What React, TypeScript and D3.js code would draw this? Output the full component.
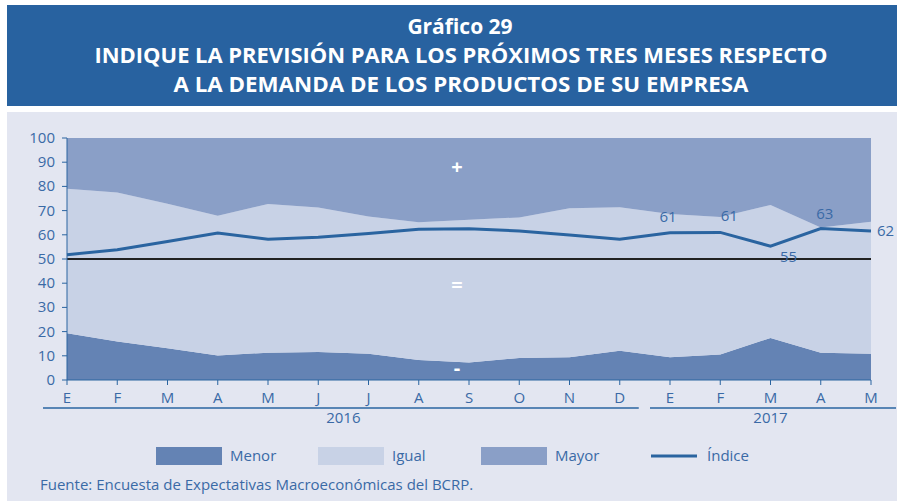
import * as d3 from 'd3';

const months = ['E', 'F', 'M', 'A', 'M', 'J', 'J', 'A', 'S', 'O', 'N', 'D', 'E', 'F', 'M', 'A', 'M'];
const years = [
  { label: '2016', from: 0, to: 11 },
  { label: '2017', from: 12, to: 16 },
];
const menor = [19.3, 15.9, 13.1, 10.1, 11.3, 11.6, 10.8, 8.3, 7.2, 9.1, 9.4, 12.1, 9.4, 10.5, 17.4, 11.3, 10.8];
const igual = [59.7, 61.6, 59.7, 57.8, 61.4, 59.7, 56.8, 56.9, 59.0, 58.1, 61.6, 59.3, 59.2, 56.9, 54.9, 51.7, 54.6];
const mayor = [21.0, 22.5, 27.2, 32.1, 27.3, 28.7, 32.4, 34.8, 33.8, 32.8, 29.0, 28.6, 31.4, 32.6, 27.7, 37.0, 34.6];
const indice = [51.8, 53.8, 57.2, 60.7, 58.2, 59.0, 60.5, 62.3, 62.5, 61.6, 59.9, 58.2, 60.8, 61.0, 55.3, 62.6, 61.6];
const labelled = [
  { i: 12, text: '61', dx: -2, dy: -11, anchor: 'middle' },
  { i: 13, text: '61', dx: 9, dy: -11, anchor: 'middle' },
  { i: 14, text: '55', dx: 18, dy: 16, anchor: 'middle' },
  { i: 15, text: '63', dx: 4, dy: -10, anchor: 'middle' },
  { i: 16, text: '62', dx: 6, dy: 5, anchor: 'start' },
];
const yTicks = [0, 10, 20, 30, 40, 50, 60, 70, 80, 90, 100];

const C = {
  title: '#2862a0',
  panel: '#e3e6f1',
  menor: '#6483b4',
  igual: '#c8d2e6',
  mayor: '#8a9fc7',
  line: '#2a64a0',
  text: '#3a6aa6',
};
const FONT = "'Open Sans', sans-serif";

export default function App() {
  const W = 904;
  const H = 501;
  const x = d3.scaleLinear().domain([0, months.length - 1]).range([67, 871]);
  const y = d3.scaleLinear().domain([0, 100]).range([380, 138]);

  const rows = months.map((_, i) => ({ i, menor: menor[i], igual: igual[i], mayor: mayor[i] }));
  const stack = d3.stack<any>().keys(['menor', 'igual', 'mayor'])(rows);
  const area = d3.area<any>()
    .x((d) => x(d.data.i))
    .y0((d) => y(d[0]))
    .y1((d) => y(d[1]));
  const line = d3.line<number>()
    .x((_, i) => x(i))
    .y((d) => y(d));

  const fills: Record<string, string> = { menor: C.menor, igual: C.igual, mayor: C.mayor };
  const legend = [
    { key: 'Menor', color: C.menor, x: 156 },
    { key: 'Igual', color: C.igual, x: 318 },
    { key: 'Mayor', color: C.mayor, x: 481 },
  ];

  return (
    <svg width={W} height={H} style={{ position: 'absolute', left: 0, top: 0 }} fontFamily={FONT}>
      <rect x={7} y={5} width={890} height={101} fill={C.title} />
      <text x={460} y={34} textAnchor="middle" fill="#fff" fontWeight={700} fontSize={21}>Gráfico 29</text>
      <text x={461} y={63} textAnchor="middle" fill="#fff" fontWeight={700} fontSize={21} textLength={733} lengthAdjust="spacingAndGlyphs">
        INDIQUE LA PREVISIÓN PARA LOS PRÓXIMOS TRES MESES RESPECTO
      </text>
      <text x={461} y={92} textAnchor="middle" fill="#fff" fontWeight={700} fontSize={21} textLength={575} lengthAdjust="spacingAndGlyphs">
        A LA DEMANDA DE LOS PRODUCTOS DE SU EMPRESA
      </text>

      <rect x={7} y={112} width={890} height={389} fill={C.panel} />

      {stack.map((s) => (
        <path key={s.key} d={area(s) || ''} fill={fills[s.key]} />
      ))}

      <line x1={x(0)} x2={x(months.length - 1)} y1={y(50)} y2={y(50)} stroke="#222" strokeWidth={2} />
      <path d={line(indice) || ''} fill="none" stroke={C.line} strokeWidth={3} />

      {labelled.map((l) => (
        <text key={l.i} x={x(l.i) + l.dx} y={y(indice[l.i]) + l.dy} textAnchor={l.anchor} fill={C.text} fontSize={15}>
          {l.text}
        </text>
      ))}

      <text x={457} y={174} textAnchor="middle" fill="#fff" fontWeight={700} fontSize={20}>+</text>
      <text x={457} y={292} textAnchor="middle" fill="#fff" fontWeight={700} fontSize={20}>=</text>
      <text x={457} y={375} textAnchor="middle" fill="#fff" fontWeight={700} fontSize={20}>-</text>

      {/* y axis */}
      <line x1={67} x2={67} y1={y(100)} y2={y(0)} stroke={C.line} strokeWidth={1} />
      {yTicks.map((t) => (
        <g key={t}>
          <line x1={62} x2={67} y1={y(t)} y2={y(t)} stroke={C.line} />
          <text x={55} y={y(t) + 5} textAnchor="end" fill={C.text} fontSize={15}>{t}</text>
        </g>
      ))}

      {/* x axis */}
      <line x1={x(0)} x2={x(months.length - 1)} y1={380} y2={380} stroke={C.line} />
      {months.map((m, i) => (
        <g key={i}>
          <line x1={x(i)} x2={x(i)} y1={380} y2={385} stroke={C.line} />
          <text x={x(i)} y={403} textAnchor="middle" fill={C.text} fontSize={15}>{m}</text>
        </g>
      ))}
      {years.map((yr) => {
        const x0 = yr.from === 0 ? 43 : x(yr.from) - 20;
        const x1 = yr.to === months.length - 1 ? 896 : x(yr.to) + 19;
        return (
          <g key={yr.label}>
            <line x1={x0} x2={x1} y1={408} y2={408} stroke={C.line} strokeWidth={1.5} />
            <text x={(x(yr.from) + x(yr.to)) / 2} y={423} textAnchor="middle" fill={C.text} fontSize={15}>{yr.label}</text>
          </g>
        );
      })}

      {/* legend */}
      {legend.map((l) => (
        <g key={l.key}>
          <rect x={l.x} y={447} width={66} height={18} fill={l.color} />
          <text x={l.x + 74} y={461} fill={C.text} fontSize={15}>{l.key}</text>
        </g>
      ))}
      <line x1={651} x2={697} y1={456} y2={456} stroke={C.line} strokeWidth={3} />
      <text x={707} y={461} fill={C.text} fontSize={15}>Índice</text>

      <text x={40} y={490} fill={C.text} fontSize={15}>Fuente: Encuesta de Expectativas Macroeconómicas del BCRP.</text>
    </svg>
  );
}
